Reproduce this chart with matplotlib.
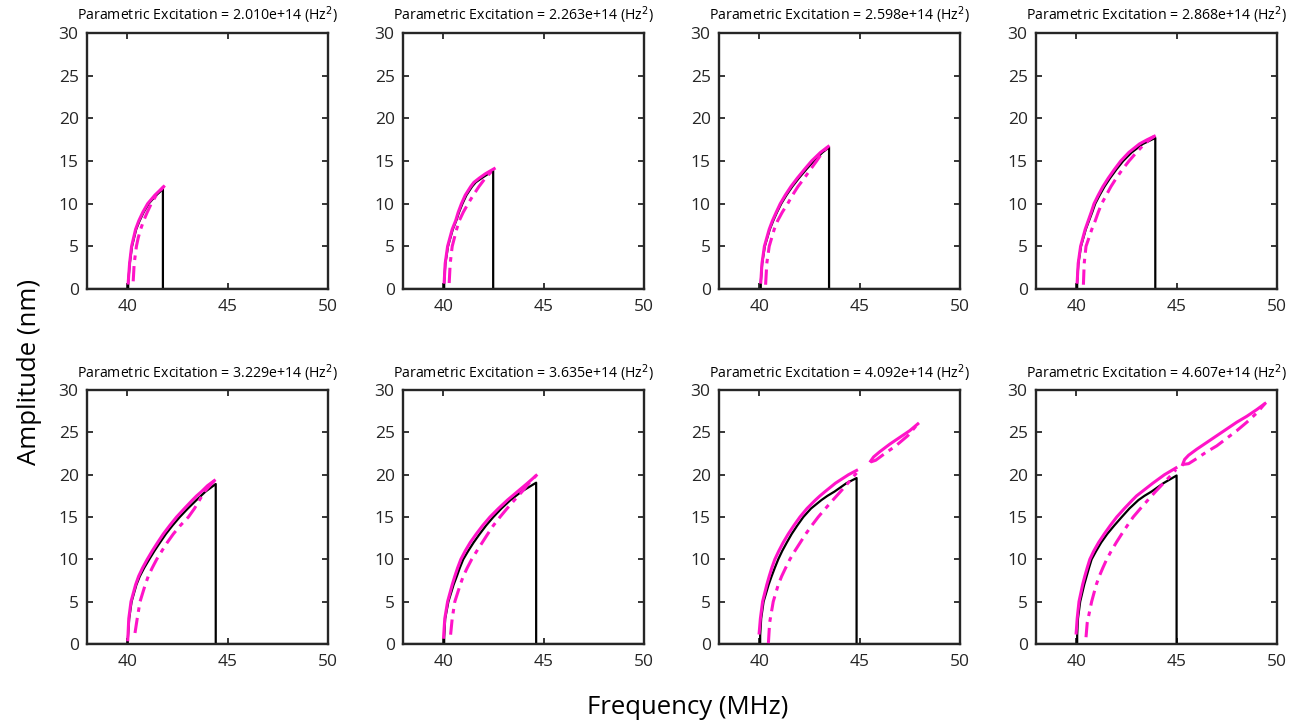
import matplotlib
matplotlib.use("Agg")
import matplotlib.pyplot as plt

# ---------------- data ----------------
excitations = ["2.010e+14", "2.263e+14", "2.598e+14", "2.868e+14",
               "3.229e+14", "3.635e+14", "4.092e+14", "4.607e+14"]

# stable branch (solid magenta): frequency (MHz) and amplitude (nm)
upper_f = [
    [40.05, 40.12, 40.22, 40.42, 40.58, 40.78, 41.02, 41.38, 41.82],
    [40.05, 40.10, 40.22, 40.45, 40.62, 40.75, 40.91, 41.10, 41.37, 41.53, 41.80, 42.10, 42.54],
    [40.08, 40.14, 40.26, 40.50, 40.66, 40.85, 41.05, 41.30, 41.58, 41.90, 42.25, 42.61, 43.05, 43.44],
    [40.05, 40.10, 40.22, 40.45, 40.60, 40.75, 40.89, 41.10, 41.33, 41.60, 41.90, 42.22, 42.62, 43.15, 43.54, 43.89],
    [40.03, 40.08, 40.19, 40.42, 40.57, 40.77, 41.00, 41.25, 41.52, 41.80, 42.12, 42.46, 42.85, 43.25, 43.46, 43.70, 44.00, 44.34],
    [40.02, 40.08, 40.22, 40.45, 40.58, 40.72, 40.88, 41.10, 41.35, 41.65, 41.97, 42.33, 42.75, 43.20, 43.70, 44.20, 44.63],
    [40.00, 40.06, 40.17, 40.38, 40.50, 40.63, 40.78, 40.98, 41.20, 41.45, 41.73, 42.03, 42.38, 42.80, 43.03, 43.28, 43.80, 44.45, 44.85],
    [40.00, 40.05, 40.14, 40.32, 40.43, 40.55, 40.68, 40.88, 41.12, 41.40, 41.70, 42.02, 42.40, 42.80, 43.01, 43.28, 43.82, 44.40, 44.97],
]
upper_a = [
    [0.7, 3, 5, 7, 8, 9, 10, 11, 12.0],
    [0.8, 3, 5, 7, 8, 9, 10, 11, 12, 12.5, 13, 13.5, 14.1],
    [0.8, 3, 5, 7, 8, 9, 10, 11, 12, 13, 14, 15, 16, 16.7],
    [0.8, 3, 5, 7, 8, 9, 10, 11, 12, 13, 14, 15, 16, 17, 17.5, 17.9],
    [0.5, 3, 5, 7, 8, 9, 10, 11, 12, 13, 14, 15, 16, 17, 17.5, 18, 18.7, 19.3],
    [0.8, 3, 5, 7, 8, 9, 10, 11, 12, 13, 14, 15, 16, 17, 18, 19, 19.9],
    [1.3, 3, 5, 7, 8, 9, 10, 11, 12, 13, 14, 15, 16, 17, 17.5, 18, 19, 20, 20.5],
    [1.3, 3, 5, 7, 8, 9, 10, 11, 12, 13, 14, 15, 16, 17, 17.5, 18, 19, 20, 20.8],
]

# unstable branch (dash-dot magenta)
lower_f = [
    [40.30, 40.35, 40.46, 40.55, 40.67, 40.82, 41.00, 41.20, 41.45, 41.82],
    [40.30, 40.35, 40.45, 40.67, 40.80, 41.00, 41.24, 41.50, 41.78, 42.10, 42.54],
    [40.32, 40.38, 40.50, 40.75, 40.92, 41.15, 41.42, 41.66, 41.93, 42.25, 42.55, 42.86, 43.15, 43.44],
    [40.36, 40.40, 40.49, 40.78, 40.95, 41.10, 41.27, 41.50, 41.73, 42.00, 42.30, 42.63, 43.00, 43.40, 43.65, 43.89],
    [40.39, 40.50, 40.64, 40.90, 41.05, 41.25, 41.47, 41.73, 42.00, 42.30, 42.65, 43.05, 43.35, 43.60, 43.85, 44.34],
    [40.37, 40.45, 40.58, 40.85, 41.00, 41.20, 41.42, 41.68, 41.95, 42.22, 42.50, 42.83, 43.18, 43.55, 43.93, 44.27, 44.63],
    [40.46, 40.52, 40.70, 40.95, 41.12, 41.32, 41.53, 41.78, 42.05, 42.32, 42.62, 42.94, 43.30, 43.67, 43.86, 44.05, 44.42, 44.85],
    [40.49, 40.55, 40.77, 41.00, 41.15, 41.33, 41.52, 41.75, 42.00, 42.27, 42.55, 42.84, 43.20, 43.57, 43.76, 43.95, 44.35, 44.75, 44.97],
]
lower_a = [
    [0.9, 3, 5, 6, 7, 8, 9, 10, 11, 12.0],
    [0.7, 3, 5, 7, 8, 9, 10, 11, 12, 13, 14.1],
    [0.5, 3, 5, 7, 8, 9, 10, 11, 12, 13, 14, 15, 16, 16.7],
    [0.5, 3, 5, 7, 8, 9, 10, 11, 12, 13, 14, 15, 16, 17, 17.5, 17.9],
    [1.3, 3, 5, 7, 8, 9, 10, 11, 12, 13, 14, 15, 16, 17, 18, 19.3],
    [1.1, 3, 5, 7, 8, 9, 10, 11, 12, 13, 14, 15, 16, 17, 18, 19, 19.9],
    [0.1, 2.5, 5, 7, 8, 9, 10, 11, 12, 13, 14, 15, 16, 17, 17.5, 18, 19, 20.2],
    [0.8, 2.5, 5, 7, 8, 9, 10, 11, 12, 13, 14, 15, 16, 17, 17.5, 18, 19, 20, 20.6],
]

# simulated response (black): rising part before the jump down
black_f = [
    [40.05, 40.13, 40.24, 40.45, 40.62, 40.82, 41.07, 41.45, 41.78],
    [40.05, 40.11, 40.24, 40.48, 40.65, 40.79, 40.96, 41.16, 41.44, 41.62, 41.92, 42.25, 42.49],
    [40.08, 40.15, 40.28, 40.53, 40.70, 40.89, 41.10, 41.36, 41.65, 41.98, 42.34, 42.72, 43.15, 43.48],
    [40.05, 40.11, 40.24, 40.48, 40.64, 40.80, 40.95, 41.17, 41.41, 41.69, 42.00, 42.34, 42.76, 43.32, 43.94],
    [40.03, 40.10, 40.22, 40.46, 40.63, 40.85, 41.10, 41.36, 41.64, 41.93, 42.26, 42.62, 43.02, 43.45, 43.90, 44.41],
    [40.05, 40.10, 40.26, 40.52, 40.68, 40.83, 41.00, 41.25, 41.52, 41.82, 42.14, 42.50, 42.90, 43.35, 43.90, 44.63],
    [40.05, 40.10, 40.22, 40.47, 40.62, 40.78, 40.95, 41.15, 41.38, 41.62, 41.90, 42.20, 42.58, 43.10, 43.40, 43.75, 44.35, 44.85],
    [40.05, 40.09, 40.20, 40.40, 40.52, 40.64, 40.77, 41.00, 41.25, 41.55, 41.90, 42.27, 42.65, 43.10, 43.40, 43.75, 44.35, 45.00],
]
black_a = [
    [0.7, 3, 5, 7, 8, 9, 10, 11, 11.7],
    [0.8, 3, 5, 7, 8, 9, 10, 11, 12, 12.5, 13, 13.5, 13.9],
    [0.8, 3, 5, 7, 8, 9, 10, 11, 12, 13, 14, 15, 16, 16.6],
    [0.8, 3, 5, 7, 8, 9, 10, 11, 12, 13, 14, 15, 16, 17, 17.7],
    [0.5, 3, 5, 7, 8, 9, 10, 11, 12, 13, 14, 15, 16, 17, 18, 18.9],
    [0.8, 3, 5, 7, 8, 9, 10, 11, 12, 13, 14, 15, 16, 17, 18, 19.05],
    [1.0, 3, 5, 7, 8, 9, 10, 11, 12, 13, 14, 15, 16, 17, 17.5, 18, 19, 19.6],
    [1.0, 3, 5, 7, 8, 9, 10, 11, 12, 13, 14, 15, 16, 17, 17.5, 18, 19, 19.9],
]

# second (detached) branch in the last two panels: {panel index: data}
iso_upper_f = {6: [45.55, 45.70, 46.00, 46.50, 47.00, 47.50, 47.90],
               7: [45.30, 45.40, 45.60, 46.00, 46.50, 47.00, 47.50, 48.00, 48.50, 49.00, 49.40]}
iso_upper_a = {6: [21.6, 22.1, 22.7, 23.6, 24.4, 25.2, 26.0],
               7: [21.2, 21.8, 22.3, 23.0, 23.8, 24.6, 25.4, 26.2, 26.9, 27.7, 28.4]}
iso_lower_f = {6: [45.55, 45.80, 46.20, 46.80, 47.40, 47.90],
               7: [45.30, 45.60, 46.00, 46.50, 47.00, 47.50, 48.00, 48.50, 49.00, 49.40]}
iso_lower_a = {6: [21.5, 21.7, 22.4, 23.4, 24.6, 26.0],
               7: [21.2, 21.3, 21.9, 22.7, 23.4, 24.3, 25.2, 26.2, 27.3, 28.4]}

x_limits = (38, 50)
y_limits = (0, 30)
x_ticks = [40, 45, 50]
y_ticks = [0, 5, 10, 15, 20, 25, 30]

# ---------------- drawing ----------------
plt.rcParams['font.family'] = ['Open Sans', 'DejaVu Sans']
MAG = '#ff14c8'
DASHDOT = (0, (5, 2, 1.5, 2))
W, H = 1314, 726
fig = plt.figure(figsize=(W / 100, H / 100), dpi=100)

col_left = [87, 403, 719, 1036]
ax_w = 241
row_top = [33, 390]
ax_h = [256, 254]

for i in range(8):
    r, c = divmod(i, 4)
    left = col_left[c] / W
    bottom = 1 - (row_top[r] + ax_h[r]) / H
    ax = fig.add_axes([left, bottom, ax_w / W, ax_h[r] / H])

    # black simulated curve: flat, rise, jump down, flat
    bf = [x_limits[0], black_f[i][0]] + black_f[i] + [black_f[i][-1], x_limits[1]]
    ba = [0, 0] + black_a[i] + [0, 0]
    ax.plot(bf, ba, color='black', lw=1.6, zorder=2)

    ax.plot(upper_f[i], upper_a[i], color=MAG, lw=2.2, zorder=3)
    ax.plot(lower_f[i], lower_a[i], color=MAG, lw=2.2, zorder=3, linestyle=DASHDOT)
    if i in iso_upper_f:
        ax.plot(iso_upper_f[i], iso_upper_a[i], color=MAG, lw=2.2, zorder=3)
        ax.plot(iso_lower_f[i], iso_lower_a[i], color=MAG, lw=2.2, zorder=3,
                linestyle=DASHDOT)

    ax.set_xlim(*x_limits)
    ax.set_ylim(*y_limits)
    ax.set_xticks(x_ticks)
    ax.set_yticks(y_ticks)
    ax.tick_params(direction='in', top=True, right=True, length=4, width=1.3,
                   labelsize=12.5, labelcolor='#262626', color='#262626')
    ax.tick_params(axis='x', pad=7)
    ax.tick_params(axis='y', pad=6)
    for s in ax.spines.values():
        s.set_linewidth(1.7)
        s.set_color('#262626')
    ax.set_title(f"Parametric Excitation = {excitations[i]} (Hz$^2$)",
                 fontsize=10.2, pad=9)

fig.text(30 / W, 1 - 372 / H, "Amplitude (nm)", rotation=90, fontsize=18.5,
         ha='center', va='center')
fig.text(688 / W, 1 - 708 / H, "Frequency (MHz)", fontsize=18.5,
         ha='center', va='center')

fig.savefig("out.png", dpi=100)
